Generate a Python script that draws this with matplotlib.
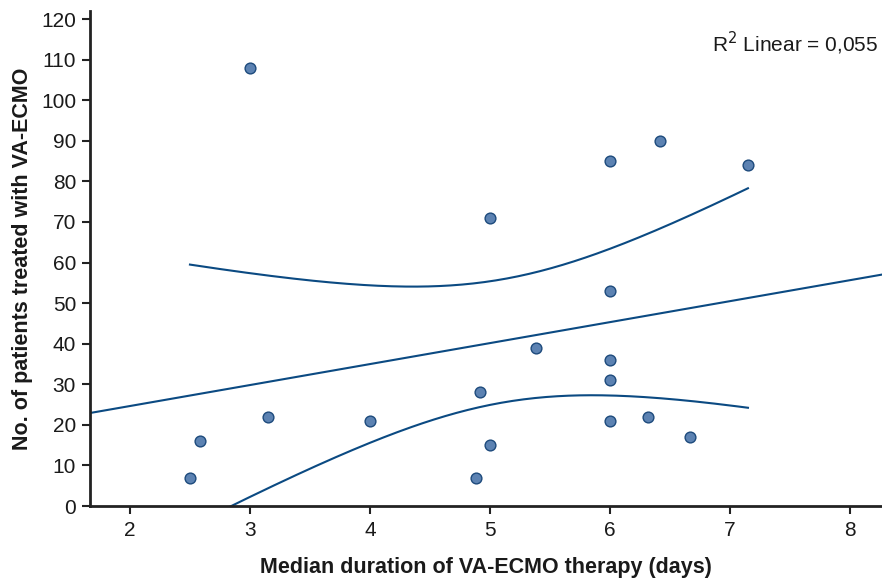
import numpy as np
import matplotlib
matplotlib.use("Agg")
import matplotlib.pyplot as plt

plt.rcParams['font.family'] = ['Liberation Sans', 'DejaVu Sans']

# Data (median duration in days, number of patients)
duration = [2.5, 2.58, 3.0, 3.15, 4.0, 4.88, 4.92, 5.0, 5.0, 5.38,
            6.0, 6.0, 6.0, 6.0, 6.0, 6.42, 6.32, 6.67, 7.15]
patients = [7, 16, 108, 22, 21, 7, 28, 15, 71, 39,
            85, 53, 36, 31, 21, 90, 22, 17, 84]
x_ticks = [2, 3, 4, 5, 6, 7, 8]
y_ticks = [0, 10, 20, 30, 40, 50, 60, 70, 80, 90, 100, 110, 120]

x = np.array(duration, dtype=float)
y = np.array(patients, dtype=float)
n = len(x)
slope, intercept = np.polyfit(x, y, 1)
resid = y - (slope * x + intercept)
s = np.sqrt(np.sum(resid ** 2) / (n - 2))
sxx = np.sum((x - x.mean()) ** 2)
t = 2.1098  # t(0.975, 17)

txt_col = '#1a1a1a'
line_col = '#0b4a82'
fig = plt.figure(figsize=(8.82, 5.79), dpi=100)
ax = fig.add_axes([90 / 882, 1 - 506 / 579, 1 - 90 / 882, (506 - 11) / 579])
ax.set_xlim(1.667, 8.267)
ax.set_ylim(0, 122)

xl = np.linspace(1.667, 8.267, 200)
ax.plot(xl, slope * xl + intercept, color=line_col, lw=1.5, zorder=2)
xc = np.linspace(x.min(), x.max(), 200)
se = s * np.sqrt(1 / n + (xc - x.mean()) ** 2 / sxx)
yc = slope * xc + intercept
ax.plot(xc, yc + t * se, color=line_col, lw=1.5, zorder=2)
ax.plot(xc, yc - t * se, color=line_col, lw=1.5, zorder=2)

ax.scatter(x, y, s=60, color='#5c82b2', edgecolor='#1d4a7c', linewidth=1.0, zorder=3)

for sp in ['top', 'right']:
    ax.spines[sp].set_visible(False)
for sp in ['left', 'bottom']:
    ax.spines[sp].set_linewidth(2)
    ax.spines[sp].set_color('#222222')

ax.set_xticks(x_ticks)
ax.set_yticks(y_ticks)
ax.tick_params(axis='both', direction='out', length=6, width=1.5, color='#222222',
               labelsize=15, labelcolor=txt_col)
ax.tick_params(axis='x', pad=5)
ax.tick_params(axis='y', pad=4)
ax.set_xlabel('Median duration of VA-ECMO therapy (days)', fontsize=15.5,
              fontweight='bold', color=txt_col, labelpad=12)
ax.set_ylabel('No. of patients treated with VA-ECMO', fontsize=15.5,
              fontweight='bold', color=txt_col, labelpad=6)

ax.text(0.995, 0.935, 'R$^2$ Linear = 0,055', transform=ax.transAxes,
        ha='right', va='center', fontsize=15, color=txt_col)

fig.savefig('out.png', dpi=100)
